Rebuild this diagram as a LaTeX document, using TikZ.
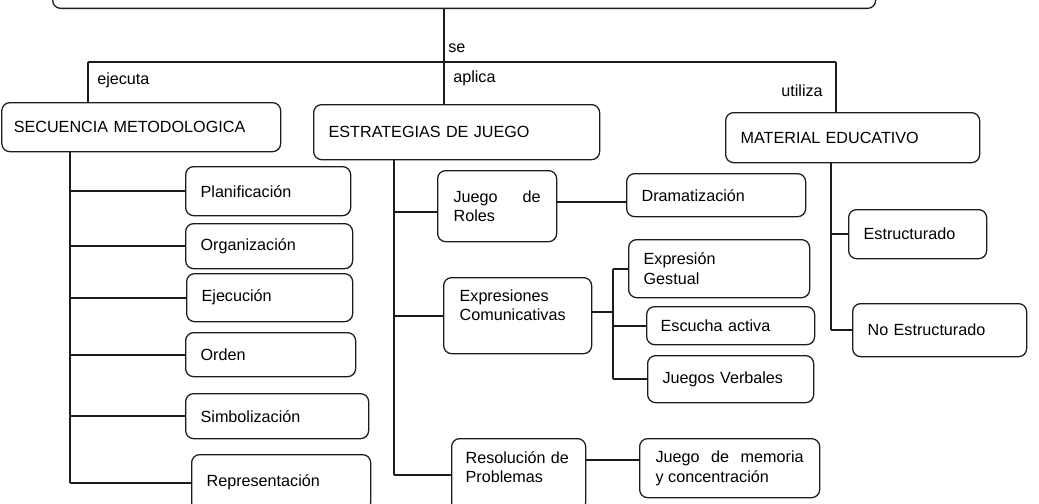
\documentclass[tikz,border=0pt]{standalone}
\usepackage{fontspec}
\setmainfont{Liberation Sans}
\usepackage{tikz}
\definecolor{trazo}{HTML}{1C1C1C}

\begin{document}
\begin{tikzpicture}[
    caja/.style={draw=trazo, line width=0.9pt, rounded corners=0.2cm, anchor=north west,
      inner xsep=0.375cm, inner ysep=0pt, align=left, font=\fontsize{11.5}{13.8}\selectfont},
    rama/.style={trazo, line width=1.5pt},
    etiq/.style={font=\fontsize{11.5}{13.8}\selectfont, inner sep=0pt}]
    \useasboundingbox (0,0) rectangle (25.975,-12.575);
    \clip (0,0) rectangle (25.975,-12.575);
    \node[caja, anchor=south west, text width=19.825cm, minimum height=1.5cm] (tema) at (1.3,-0.225) {};

    \coordinate (barra) at (11.1,-1.55);
    \coordinate (bi) at (2.2,-1.55);
    \coordinate (bd) at (20.9,-1.55);
    \draw[rama] (tema.south -| barra) -- (barra);
    \draw[rama] (bi) -- (bd);

    \node[caja, inner xsep=0.3cm, text width=6.37cm, minimum height=1.225cm] (secu) at (0.03,-2.55) {SECUENCIA METODOLOGICA};
    \node[caja, text width=6.4cm, minimum height=1.375cm] (estr) at (7.825,-2.6) {ESTRATEGIAS DE JUEGO};
    \node[caja, text width=5.6cm, minimum height=1.25cm] (mate) at (18.125,-2.8) {MATERIAL EDUCATIVO};

    \draw[rama] (bi) -- (bi |- secu.north);
    \draw[rama] (barra) -- (barra |- estr.north);
    \draw[rama] (bd) -- (bd |- mate.north);

    \node[etiq, anchor=west] (l_se) at (11.2,-1.2) {se};
    \node[etiq, anchor=west] (l_aplica) at (11.325,-1.95) {aplica};
    \node[etiq, anchor=west] (l_ejecuta) at (2.425,-2.0) {ejecuta};
    \node[etiq, anchor=east] (l_utiliza) at (20.575,-2.275) {utiliza};

    \coordinate (ls) at (1.75,-3.775);
    \foreach \n/\x/\y/\tw/\h/\t in {plan/4.625/-4.15/3.375/1.225/Planificación,
        organ/4.625/-5.575/3.425/1.125/Organización, ejec/4.65/-6.825/3.4/1.2/Ejecución,
        orden/4.625/-8.3/3.5/1.1/Orden, simb/4.625/-9.825/3.825/1.125/Simbolización,
        repr/4.775/-11.35/3.725/1.4/Representación} {
      \node[caja, text width=\tw cm, minimum height=\h cm] (\n) at (\x,\y) {\t};
      \draw[rama] (ls |- \n.west) -- (\n.west);
    }
    \draw[rama] (ls) -- (ls |- repr.west);

    \coordinate (ms) at (9.85,0);
    \node[caja, inner xsep=0.4cm, text width=2.175cm, minimum height=1.775cm, align=justify] (roles) at (10.925,-4.25) {Juego de\linebreak Roles};
    \node[caja, text width=3.725cm, minimum height=1.075cm] (drama) at (15.65,-4.325) {Dramatización};
    \node[caja, inner xsep=0.4cm, text width=2.9cm, text depth=1.0cm, minimum height=1.9cm] (expres) at (11.075,-6.925) {Expresiones\\Comunicativas};
    \node[caja, inner xsep=0.35cm, text width=2.65cm, text depth=0.87cm, minimum height=1.8cm] (resol) at (11.275,-10.95) {Resolución de\\Problemas};
    \draw[rama] (estr.south -| ms) -- (ms |- resol.west);
    \draw[rama] ([yshift=-0.14cm]roles.west -| ms) -- ([yshift=-0.14cm]roles.west);
    \draw[rama] (ms |- expres.west) -- (expres.west);
    \draw[rama] (ms |- resol.west) -- (resol.west);
    \draw[rama] ([yshift=0.11cm]roles.east) coordinate (rd) -- (rd -| drama.west);

    \coordinate (ss) at (15.325,0);
    \node[caja, text width=3.775cm, minimum height=1.45cm] (gestual) at (15.7,-5.975) {Expresión\\Gestual};
    \node[caja, inner xsep=0.35cm, text width=3.5cm, minimum height=0.95cm] (escucha) at (16.15,-7.65) {Escucha activa};
    \node[caja, text width=3.4cm, minimum height=1.175cm] (verbales) at (16.175,-8.875) {Juegos Verbales};
    \draw[rama] ([yshift=0.1cm]expres.east) coordinate (es) -- (es -| ss);
    \draw[rama] (ss |- gestual.west) -- (ss |- verbales.west);
    \foreach \n in {gestual, escucha, verbales}
      \draw[rama] (ss |- \n.west) -- (\n.west);

    \node[caja, inner xsep=0.4cm, text width=3.7cm, minimum height=1.475cm, align=justify] (memo) at (15.975,-10.95) {Juego de memoria\linebreak y concentración};
    \draw[rama] ([yshift=0.375cm]resol.east) coordinate (rm) -- (rm -| memo.west);

    \coordinate (rs) at (20.775,0);
    \node[caja, text width=2.7cm, minimum height=1.225cm] (estruct) at (21.2,-5.225) {Estructurado};
    \node[caja, text width=3.6cm, minimum height=1.325cm] (noest) at (21.3,-7.575) {No Estructurado};
    \draw[rama] (mate.south -| rs) -- (rs |- noest.west);
    \draw[rama] (rs |- estruct.west) -- (estruct.west);
    \draw[rama] (rs |- noest.west) -- (noest.west);
\end{tikzpicture}
\end{document}
